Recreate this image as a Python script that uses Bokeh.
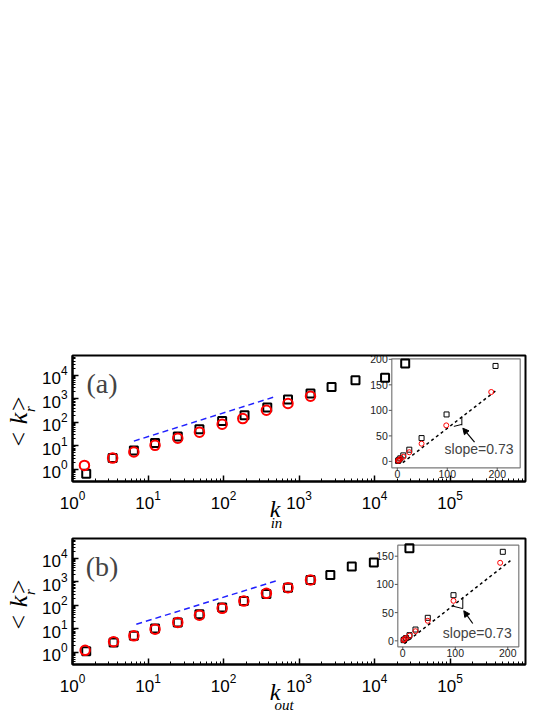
import math
from bokeh.plotting import figure
from bokeh.models import (Range1d, LinearScale, FixedTicker, LogTickFormatter,
                          LogAxis, Label, Arrow, NormalHead)
from bokeh.core.properties import value
from bokeh.layouts import column
from bokeh.embed import file_html
from bokeh.resources import INLINE

SANS = "Liberation Sans"
SERIF = "Liberation Serif"
NB = "\u00a0"

# ---------------- data ----------------
X_TICKS = [1, 10, 100, 1000, 10000, 100000]
Y_TICKS = [1, 10, 100, 1000, 10000]
INSET_X_TICKS = [0, 100, 200]

# panel (a): main log-log plot
a_sq_x = [1.52, 3.4, 6.5, 12.4, 24.8, 48, 96, 190, 380, 715, 1420, 2700, 5600, 13800, 25500]
a_sq_y = [0.64, 2.98, 6.3, 13, 25, 50, 114, 199, 424, 933, 1690, 3220, 6220, 7800, 32000]
a_ci_x = [1.44, 3.4, 6.5, 12.4, 24.8, 48, 96, 180, 370, 715, 1420]
a_ci_y = [1.45, 2.98, 5.4, 10.4, 21, 38, 82, 144, 325, 630, 1290]
a_guide_x = [6.5, 470]
a_guide_y = [15.8, 1200]
# panel (a): inset (linear)
a_in_sq_x = [1.5, 3, 6, 12, 24, 48.6, 98.6, 196.6]
a_in_sq_y = [1, 3, 6, 11.8, 23, 45.7, 92, 187]
a_in_ci_x = [1.5, 3, 6, 12, 24, 48.6, 98, 188]
a_in_ci_y = [1.3, 2.5, 5, 9, 18, 34.7, 70.6, 136]
a_fit_x = [11, 198]
a_fit_y = [-2.5, 139]
a_in_y_ticks = [0, 50, 100, 150, 200]

# panel (b): main log-log plot
b_sq_x = [1.52, 3.5, 6.5, 12.4, 24.8, 48, 96, 186, 370, 715, 1420, 2600, 5000, 9800, 29000]
b_sq_y = [1.1, 2.6, 5.0, 10.3, 18.6, 41, 81, 151, 302, 565, 1200, 1950, 4450, 6600, 27000]
b_ci_x = [1.47, 3.5, 6.5, 12.4, 24.8, 48, 96, 186, 370, 715, 1420]
b_ci_y = [1.2, 2.8, 5.0, 9.6, 18.6, 38, 74, 151, 323, 565, 1200]
b_guide_x = [7, 500]
b_guide_y = [15.5, 1100]
# panel (b): inset (linear)
b_in_sq_x = [1.5, 3, 6.3, 12.8, 24.2, 47.6, 96.6, 190.5]
b_in_sq_y = [1.2, 2.5, 5, 10, 20, 40.8, 80.9, 157.8]
b_in_ci_x = [1.5, 3, 6, 12.8, 24.2, 47.6, 96.6, 185.5]
b_in_ci_y = [1.3, 2.5, 5, 9, 17, 35.5, 70.9, 138.3]
b_fit_x = [3, 205]
b_fit_y = [-5, 142]
b_in_y_ticks = [0, 50, 100, 150]

SLOPE_TEXT = "slope=0.73"

# ---------------- layout constants ----------------
FW, FH = 453, 126
X_RANGE = (1, 1e6)
Y_RANGE = (0.3, 7e4)
X_MINOR = [m * 10 ** e for e in range(0, 6) for m in range(2, 10)]
Y_MINOR = [m * 10 ** e for e in range(-1, 5) for m in range(2, 10) if 0.3 <= m * 10 ** e <= 7e4]


def label_axis(text, size, standoff):
    """Axis without ticks that only carries a (partial) axis label."""
    return LogAxis(ticker=FixedTicker(ticks=[], minor_ticks=[]),
                   axis_line_color=None, major_tick_line_color=None,
                   minor_tick_line_color=None, major_label_text_font_size="0px",
                   major_label_standoff=0, major_tick_in=0, major_tick_out=0,
                   minor_tick_in=0, minor_tick_out=0,
                   axis_label=text, axis_label_text_font=SERIF,
                   axis_label_text_font_style="italic",
                   axis_label_text_font_size=size, axis_label_text_color="black",
                   axis_label_standoff=standoff)


def make_panel(tag, sub, sq_x, sq_y, ci_x, ci_y, gx, gy,
               in_sq_x, in_sq_y, in_ci_x, in_ci_y, fit_x, fit_y, in_y_ticks,
               box, drange, tri, arrow, slope_pos, top, bottom,
               k_pad, sub_pad, sub_standoff):
    p = figure(x_axis_type="log", y_axis_type="log",
               x_range=Range1d(*X_RANGE), y_range=Range1d(*Y_RANGE),
               frame_width=FW, frame_height=FH,
               min_border_left=68, min_border_right=30,
               min_border_top=top, min_border_bottom=bottom,
               output_backend="svg", toolbar_location=None)
    p.xgrid.visible = False
    p.ygrid.visible = False
    p.outline_line_color = "black"
    p.outline_line_width = 2
    p.background_fill_color = "white"
    p.border_fill_color = "white"
    for ax, ticks, minor in ((p.xaxis[0], X_TICKS, X_MINOR), (p.yaxis[0], Y_TICKS, Y_MINOR)):
        ax.ticker = FixedTicker(ticks=ticks, minor_ticks=minor)
        ax.formatter = LogTickFormatter()
        ax.major_tick_in = 6
        ax.major_tick_out = 0
        ax.minor_tick_in = 3
        ax.minor_tick_out = 0
        ax.axis_line_width = 2
        ax.major_tick_line_width = 1.5
        ax.minor_tick_line_width = 1
        ax.major_label_text_font = SANS
        ax.major_label_text_font_size = "17px"
        ax.major_label_text_color = "black"
        ax.axis_label_text_font = SERIF
        ax.axis_label_text_font_style = "italic"
        ax.axis_label_text_color = "black"
    xa, ya = p.xaxis[0], p.yaxis[0]
    xa.major_label_standoff = 9
    ya.major_label_standoff = 5
    # x label: big italic k on the main axis, subscript on a label-only axis below
    xa.axis_label = "k" + NB * k_pad
    xa.axis_label_text_font_size = "24px"
    xa.axis_label_standoff = -16
    p.add_layout(label_axis(sub + NB * sub_pad, "15px", sub_standoff), "below")
    # y label: subscript r next to the ticks, <k> further out
    ya.axis_label = NB * 5 + "r"
    ya.axis_label_text_font_size = "15px"
    ya.axis_label_standoff = 1
    p.add_layout(label_axis("<" + NB + "k>" + NB, "26px", -14), "left")

    # ----- inset coordinate system (linear) mapped onto a sub-box of the frame -----
    l, r, t, b = box
    x0, x1, y0, y1 = drange
    sx = (x1 - x0) / (r - l)
    sy = (y1 - y0) / (b - t)
    p.extra_x_ranges = {"ix": Range1d(x0 - l * sx, x1 + (FW - r) * sx)}
    p.extra_y_ranges = {"iy": Range1d(y0 - (FH - b) * sy, y1 + t * sy)}
    p.extra_x_scales = {"ix": LinearScale()}
    p.extra_y_scales = {"iy": LinearScale()}
    kw = dict(x_range_name="ix", y_range_name="iy")

    p.quad(left=[x0], right=[x1], bottom=[y0], top=[y1], fill_color="white",
           line_color="#7a7a7a", line_width=1.2, **kw)
    p.ray(x=INSET_X_TICKS, y=[y0] * len(INSET_X_TICKS), length=3, length_units="screen",
          angle=-math.pi / 2, line_color="#555555", line_width=1, **kw)
    p.ray(x=[x0] * len(in_y_ticks), y=in_y_ticks, length=3, length_units="screen",
          angle=math.pi, line_color="#555555", line_width=1, **kw)
    p.text(x=INSET_X_TICKS, y=[y0] * len(INSET_X_TICKS), text=[str(v) for v in INSET_X_TICKS],
           text_font=value(SANS), text_font_size="10.5px", text_color="#222222",
           text_align="center", text_baseline="top", y_offset=2, **kw)
    p.text(x=[x0] * len(in_y_ticks), y=in_y_ticks, text=[str(v) for v in in_y_ticks],
           text_font=value(SANS), text_font_size="10.5px", text_color="#222222",
           text_align="right", text_baseline="middle", x_offset=-4, **kw)
    p.line(fit_x, fit_y, line_color="black", line_dash="3 3", line_width=1.5, **kw)
    p.scatter(in_sq_x, in_sq_y, marker="square", size=5, fill_color=None,
              line_color="black", line_width=1, **kw)
    p.scatter(in_ci_x, in_ci_y, marker="circle", size=5, fill_color=None,
              line_color="red", line_width=1, **kw)
    p.segment(x0=tri[0], y0=tri[1], x1=tri[2], y1=tri[3], line_color="black", line_width=1, **kw)
    p.add_layout(Arrow(end=NormalHead(size=6, line_color="black", fill_color="black"),
                       x_start=arrow[0], y_start=arrow[1], x_end=arrow[2], y_end=arrow[3],
                       line_color="black", line_width=1.2, **kw))
    p.add_layout(Label(x=slope_pos[0], y=slope_pos[1], text=SLOPE_TEXT, text_font=SANS,
                       text_font_size="14px", text_align="left", text_baseline="middle", **kw))

    # ----- main data -----
    p.line(gx, gy, line_color="#2020ff", line_dash="6 4", line_width=1.5)
    p.scatter(sq_x, sq_y, marker="square", size=8, fill_color=None,
              line_color="black", line_width=2)
    p.scatter(ci_x, ci_y, marker="circle", size=9.5, fill_color=None,
              line_color="red", line_width=2)

    # ----- panel tag -----
    p.add_layout(Label(x=29.5, y=98.5, x_units="screen", y_units="screen", text=tag,
                       text_font=SERIF, text_font_size="28px", text_align="center",
                       text_baseline="middle"))
    return p


pa = make_panel("(a)", "in", a_sq_x, a_sq_y, a_ci_x, a_ci_y, a_guide_x, a_guide_y,
                a_in_sq_x, a_in_sq_y, a_in_ci_x, a_in_ci_y, a_fit_x, a_fit_y, a_in_y_ticks,
                box=(319.3, 447.7, 3.3, 112.3), drange=(-11, 246, -12.5, 201),
                tri=([113.2, 129.2], [68.6, 70.6], [129.2, 129.2], [72.5, 88.2]),
                arrow=(154.6, 37.8, 131.2, 65.1), slope_pos=(94.6, 23.5),
                top=355, bottom=56, k_pad=8, sub_pad=12, sub_standoff=-10)
pb = make_panel("(b)", "out", b_sq_x, b_sq_y, b_ci_x, b_ci_y, b_guide_x, b_guide_y,
                b_in_sq_x, b_in_sq_y, b_in_ci_x, b_in_ci_y, b_fit_x, b_fit_y, b_in_y_ticks,
                box=(325.3, 446.3, 6.7, 108.3), drange=(-9.5, 221, -10.6, 169.5),
                tri=([95.2, 114.3], [61.5, 57.1], [114.3, 114.3], [57.1, 76.6]),
                arrow=(133.3, 30.7, 116.2, 53.3), slope_pos=(76.2, 14.2),
                top=1, bottom=50, k_pad=8, sub_pad=8, sub_standoff=-11)

layout = column(pa, pb)
open("out.html", "w").write(file_html(layout, INLINE))
